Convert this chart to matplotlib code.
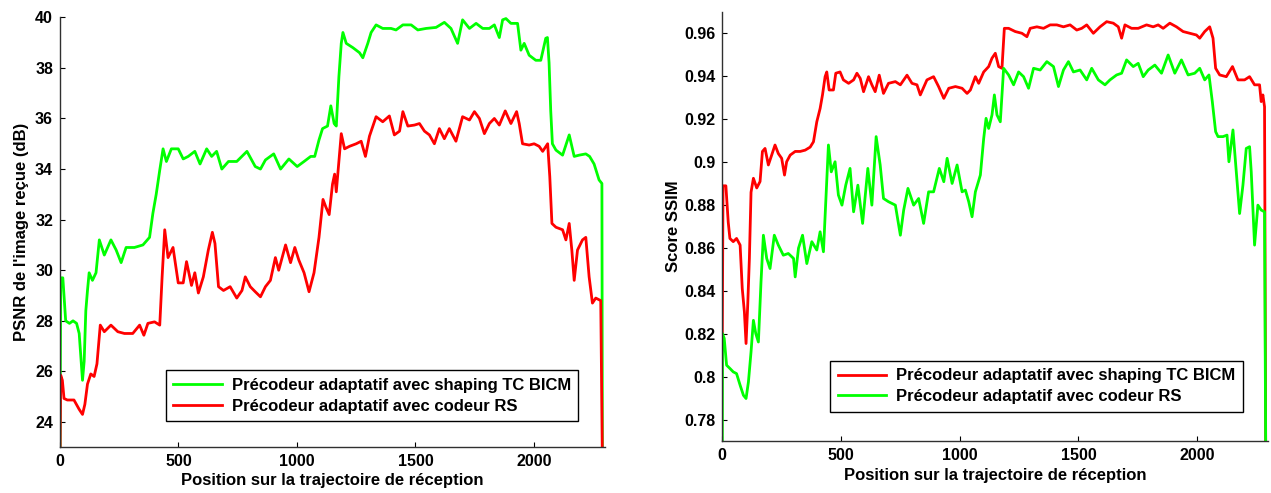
import matplotlib
matplotlib.use("Agg")
import matplotlib.pyplot as plt
from matplotlib.ticker import FormatStrFormatter

plt.rcParams['font.family'] = ['Liberation Sans', 'DejaVu Sans']
plt.rcParams['font.weight'] = 'bold'

LABEL_TC = "Précodeur adaptatif avec shaping TC BICM"
LABEL_RS = "Précodeur adaptatif avec codeur RS"
XLABEL = "Position sur la trajectoire de réception"

# --- PSNR (left panel) -------------------------------------------------------
psnr_tc_x = [0, 3, 12, 24, 40, 55, 70, 81, 95, 102, 109, 116, 123, 137, 152, 166, 187, 215,
             237, 258, 279, 314, 350, 378, 392, 406, 421, 435, 449, 470, 499, 520, 541, 569,
             591, 619, 640, 661, 683, 711, 746, 789, 824, 846, 867, 902, 931, 966, 1001,
             1030, 1058, 1075, 1093, 1108, 1129, 1143, 1157, 1166, 1177, 1187, 1194, 1208,
             1236, 1264, 1278, 1299, 1313, 1334, 1362, 1397, 1418, 1447, 1482, 1510, 1545,
             1587, 1622, 1650, 1678, 1699, 1728, 1756, 1784, 1812, 1833, 1854, 1868, 1882,
             1903, 1931, 1945, 1959, 1980, 2008, 2029, 2050, 2057, 2064, 2071, 2078, 2093,
             2121, 2149, 2170, 2191, 2219, 2235, 2254, 2275, 2287, 2289]
psnr_tc = [22.5, 29.7, 29.7, 28.0, 27.9, 28.0, 27.9, 27.5, 25.65, 26.4, 28.4, 29.2, 29.9, 29.6,
           29.9, 31.2, 30.6, 31.2, 30.8, 30.3, 30.9, 30.9, 31.0, 31.3, 32.25, 33.0, 33.96, 34.8,
           34.3, 34.8, 34.8, 34.4, 34.5, 34.7, 34.2, 34.8, 34.5, 34.7, 34.0, 34.3, 34.3, 34.7,
           34.1, 34.0, 34.36, 34.6, 34.0, 34.4, 34.1, 34.3, 34.5, 34.5, 35.15, 35.6, 35.7, 36.5,
           35.8, 35.7, 37.65, 38.97, 39.4, 38.97, 38.8, 38.6, 38.4, 38.97, 39.4, 39.7, 39.56,
           39.56, 39.5, 39.7, 39.7, 39.5, 39.56, 39.6, 39.8, 39.56, 38.97, 39.9, 39.56, 39.76,
           39.56, 39.56, 39.7, 39.2, 39.9, 39.95, 39.76, 39.76, 38.7, 38.97, 38.5, 38.3, 38.3,
           39.17, 39.2, 38.2, 36.3, 35.0, 34.75, 34.55, 35.35, 34.5, 34.55, 34.6, 34.5, 34.2,
           33.57, 33.43, 22.5]

psnr_rs_x = [0, 3, 10, 17, 31, 59, 81, 95, 105, 116, 130, 144, 156, 170, 187, 215, 244, 272,
             307, 336, 354, 371, 399, 421, 431, 442, 456, 477, 499, 520, 534, 555, 569, 584,
             605, 626, 643, 654, 669, 690, 718, 746, 768, 782, 803, 824, 846, 867, 888, 909,
             923, 952, 973, 991, 1008, 1030, 1051, 1072, 1093, 1110, 1122, 1136, 1150, 1159,
             1166, 1187, 1201, 1222, 1250, 1271, 1289, 1306, 1334, 1362, 1390, 1411, 1433,
             1447, 1468, 1496, 1517, 1538, 1559, 1580, 1601, 1622, 1643, 1671, 1699, 1728,
             1749, 1770, 1791, 1812, 1833, 1854, 1879, 1903, 1927, 1938, 1952, 1980, 2001,
             2022, 2037, 2058, 2067, 2076, 2093, 2121, 2135, 2149, 2160, 2170, 2184, 2205,
             2219, 2233, 2247, 2261, 2282, 2289]
psnr_rs = [22.5, 25.85, 25.65, 24.93, 24.87, 24.87, 24.5, 24.3, 24.7, 25.5, 25.9, 25.8, 26.3,
           27.83, 27.57, 27.83, 27.57, 27.5, 27.5, 27.83, 27.43, 27.9, 27.96, 27.83, 29.74,
           31.6, 30.5, 30.9, 29.5, 29.5, 30.34, 29.4, 29.9, 29.1, 29.74, 30.8, 31.5, 31.06,
           29.35, 29.2, 29.35, 28.9, 29.2, 29.74, 29.35, 29.15, 28.95, 29.35, 29.6, 30.5, 30.0,
           31.0, 30.3, 30.9, 30.4, 29.9, 29.15, 29.9, 31.3, 32.8, 32.5, 32.2, 33.4, 33.8, 33.1,
           35.4, 34.8, 34.9, 35.0, 35.1, 34.5, 35.3, 36.07, 35.87, 36.1, 35.35, 35.5, 36.27,
           35.7, 35.74, 35.8, 35.5, 35.35, 35.0, 35.6, 35.2, 35.6, 35.1, 36.07, 35.94, 36.27,
           36.0, 35.4, 35.8, 36.0, 35.74, 36.3, 35.8, 36.27, 35.8, 35.0, 34.95, 35.0, 34.9,
           34.7, 35.0, 33.7, 31.85, 31.7, 31.6, 31.2, 31.85, 30.8, 29.6, 30.8, 31.2, 31.3,
           29.74, 28.7, 28.9, 28.8, 22.5]

psnr_yticks = [24, 26, 28, 30, 32, 34, 36, 38, 40]

# --- SSIM (right panel) ------------------------------------------------------
ssim_tc_x = [0, 3, 15, 25, 32, 46, 60, 75, 84, 93, 100, 107, 114, 121, 131, 145, 159, 169,
             180, 194, 208, 222, 236, 250, 262, 271, 286, 307, 328, 349, 370, 384, 398, 412,
             422, 433, 440, 450, 468, 478, 496, 510, 532, 553, 567, 581, 595, 616, 630, 644,
             661, 679, 700, 729, 750, 778, 799, 820, 834, 862, 890, 911, 933, 954, 982, 1010,
             1031, 1045, 1066, 1080, 1101, 1122, 1136, 1150, 1164, 1178, 1188, 1206, 1234,
             1262, 1283, 1297, 1325, 1353, 1381, 1409, 1437, 1465, 1493, 1514, 1535, 1563,
             1591, 1619, 1647, 1668, 1682, 1696, 1724, 1752, 1787, 1815, 1836, 1857, 1885,
             1913, 1941, 1969, 1997, 2011, 2032, 2053, 2067, 2078, 2095, 2123, 2149, 2172,
             2200, 2221, 2242, 2263, 2270, 2277, 2284, 2289]
ssim_tc = [0.821, 0.889, 0.889, 0.872, 0.8645, 0.863, 0.8645, 0.8614, 0.8412, 0.8303, 0.8156,
           0.8334, 0.855, 0.886, 0.8925, 0.888, 0.891, 0.905, 0.9064, 0.8987, 0.9033, 0.908,
           0.904, 0.9018, 0.894, 0.9002, 0.9033, 0.905, 0.905, 0.9056, 0.907, 0.9095, 0.9188,
           0.925, 0.9313, 0.9398, 0.942, 0.9336, 0.9336, 0.9414, 0.942, 0.9383, 0.9367, 0.9383,
           0.9414, 0.939, 0.9328, 0.9398, 0.936, 0.9328, 0.9405, 0.932, 0.9367, 0.9375, 0.936,
           0.9405, 0.9367, 0.936, 0.9313, 0.9383, 0.9398, 0.9352, 0.9297, 0.9344, 0.9352,
           0.9344, 0.932, 0.9336, 0.9398, 0.9367, 0.942, 0.9445, 0.9484, 0.9507, 0.9445,
           0.9437, 0.9623, 0.9623, 0.9608, 0.96, 0.9584, 0.9623, 0.963, 0.9623, 0.9639, 0.9639,
           0.963, 0.9639, 0.9615, 0.9623, 0.9639, 0.96, 0.963, 0.9654, 0.9647, 0.963, 0.9577,
           0.9639, 0.9623, 0.9623, 0.9639, 0.963, 0.9639, 0.9623, 0.9647, 0.963, 0.9608, 0.96,
           0.9592, 0.9577, 0.9608, 0.963, 0.9577, 0.9437, 0.9406, 0.9398, 0.9445, 0.9383,
           0.9383, 0.9398, 0.936, 0.936, 0.9282, 0.9313, 0.9258, 0.765]

ssim_rs_x = [0, 1, 8, 18, 32, 46, 60, 75, 89, 100, 110, 121, 131, 141, 152, 163, 173, 187,
             201, 219, 236, 257, 278, 300, 307, 321, 338, 356, 377, 398, 412, 426, 437, 447,
             459, 475, 489, 504, 520, 538, 553, 571, 591, 613, 630, 648, 665, 679, 700, 729,
             750, 764, 782, 806, 827, 848, 869, 890, 914, 933, 947, 968, 989, 1010, 1024, 1038,
             1052, 1066, 1087, 1101, 1111, 1122, 1136, 1146, 1157, 1171, 1185, 1206, 1227,
             1248, 1269, 1290, 1311, 1339, 1367, 1395, 1416, 1437, 1458, 1479, 1507, 1535,
             1556, 1584, 1612, 1633, 1661, 1682, 1703, 1731, 1752, 1773, 1794, 1822, 1850,
             1878, 1906, 1934, 1962, 1990, 2011, 2032, 2050, 2064, 2078, 2088, 2109, 2126,
             2134, 2151, 2165, 2179, 2193, 2207, 2221, 2228, 2242, 2256, 2270, 2284, 2289]
ssim_rs = [0.765, 0.8202, 0.818, 0.8055, 0.804, 0.8024, 0.8016, 0.7962, 0.7915, 0.79, 0.7977,
           0.8117, 0.8264, 0.8202, 0.8163, 0.8443, 0.866, 0.8552, 0.8505, 0.866, 0.8614,
           0.8567, 0.8575, 0.8552, 0.8466, 0.86, 0.866, 0.8528, 0.863, 0.8591, 0.8676, 0.8583,
           0.8847, 0.908, 0.8955, 0.9002, 0.8847, 0.88, 0.8893, 0.8971, 0.8769, 0.8893, 0.8715,
           0.8971, 0.88, 0.9119, 0.8987, 0.8831, 0.8816, 0.88, 0.866, 0.8777, 0.8878, 0.88,
           0.8831, 0.8715, 0.8862, 0.8862, 0.8971, 0.8909, 0.9018, 0.8901, 0.8987, 0.8862,
           0.887, 0.8816, 0.8746, 0.8862, 0.894, 0.911, 0.9204, 0.9157, 0.922, 0.9313, 0.922,
           0.9188, 0.9437, 0.9406, 0.936, 0.942, 0.9398, 0.9344, 0.9437, 0.9429, 0.9468,
           0.9445, 0.9352, 0.9429, 0.9468, 0.942, 0.9429, 0.9383, 0.9437, 0.9383, 0.936,
           0.9383, 0.9406, 0.9414, 0.9476, 0.9445, 0.946, 0.9398, 0.9429, 0.9452, 0.9414,
           0.9499, 0.9414, 0.9476, 0.9406, 0.9414, 0.9437, 0.9383, 0.9406, 0.9282, 0.9142,
           0.9119, 0.9119, 0.9126, 0.9002, 0.915, 0.8955, 0.8761, 0.8893, 0.9064, 0.9072,
           0.8955, 0.8614, 0.88, 0.8777, 0.8769, 0.765]

ssim_yticks = [0.78, 0.80, 0.82, 0.84, 0.86, 0.88, 0.90, 0.92, 0.94, 0.96]

xticks = [0, 500, 1000, 1500, 2000]


def style_axes(ax):
    # matlab-like look: box off, ticks inside
    ax.spines['top'].set_visible(False)
    ax.spines['right'].set_visible(False)
    for s in ('left', 'bottom'):
        ax.spines[s].set_color('#303030')
        ax.spines[s].set_linewidth(1.0)
    ax.tick_params(direction='in', length=3.5, width=0.8, labelsize=11.5, pad=5)
    for lbl in ax.get_xticklabels() + ax.get_yticklabels():
        lbl.set_fontweight('bold')
    ax.set_xlim(0, 2300)
    ax.set_xticks(xticks)
    ax.set_xlabel(XLABEL, fontsize=12, fontweight='bold', labelpad=3)


def add_legend(ax, anchor):
    leg = ax.legend(loc='lower right', bbox_to_anchor=anchor, borderaxespad=0,
                    fancybox=False, edgecolor='black', framealpha=1,
                    handlelength=2.9, handletextpad=0.6,
                    prop={'weight': 'bold', 'size': 12}, borderpad=0.45,
                    labelspacing=0.35)
    leg.get_frame().set_linewidth(1.0)
    return leg


fig = plt.figure(figsize=(12.71, 4.93), dpi=100)

ax1 = fig.add_axes([0.0472, 0.0927, 0.4288, 0.8722])
ax1.plot(psnr_tc_x, psnr_tc, color='#00ff00', lw=2.0, label=LABEL_TC)
ax1.plot(psnr_rs_x, psnr_rs, color='#ff0000', lw=2.0, label=LABEL_RS)
ax1.set_ylim(23, 40)
ax1.set_yticks(psnr_yticks)
ax1.set_ylabel("PSNR de l'image reçue (dB)", fontsize=12, fontweight='bold', labelpad=4)
style_axes(ax1)
add_legend(ax1, (0.951, 0.061))

ax2 = fig.add_axes([0.5683, 0.1045, 0.4296, 0.8716])
ax2.plot(ssim_tc_x, ssim_tc, color='#ff0000', lw=2.0, label=LABEL_TC)
ax2.plot(ssim_rs_x, ssim_rs, color='#00ff00', lw=2.0, label=LABEL_RS)
ax2.set_ylim(0.77, 0.97)
ax2.set_yticks(ssim_yticks)
ax2.yaxis.set_major_formatter(FormatStrFormatter('%g'))
ax2.set_ylabel("Score SSIM", fontsize=12, fontweight='bold', labelpad=2)
style_axes(ax2)
add_legend(ax2, (0.953, 0.069))

fig.savefig('out.png', dpi=100)
